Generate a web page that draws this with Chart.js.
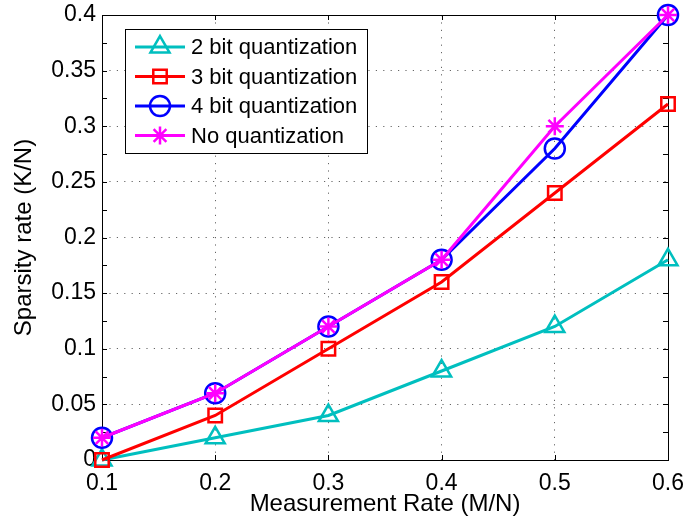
<!DOCTYPE html>
<html>
<head>
<meta charset="utf-8">
<script src="https://cdn.jsdelivr.net/npm/chart.js@4/dist/chart.umd.min.js"></script>
<style>
  html, body { margin: 0; padding: 0; background: #fff; overflow: hidden; }
  #wrap { width: 687px; height: 527px; }
</style>
</head>
<body>
<div id="wrap"><canvas id="sparsityChart"></canvas></div>
<script>
const rates = [0.1, 0.2, 0.3, 0.4, 0.5, 0.6];
const bit2 = [0, 0.02, 0.04, 0.08, 0.12, 0.18];
const bit3 = [0, 0.04, 0.10, 0.16, 0.24, 0.32];
const bit4 = [0.02, 0.06, 0.12, 0.18, 0.28, 0.40];
const noQuant = [0.02, 0.06, 0.12, 0.18, 0.30, 0.40];
const seriesNames = ["2 bit quantization", "3 bit quantization", "4 bit quantization", "No quantization"];

const FONT = "'Liberation Sans', Arial, Helvetica, sans-serif";

function pts(values) {
  return rates.map((r, i) => ({ x: r, y: values[i] }));
}

function series(label, values, color, style, radius, order) {
  return {
    label: label,
    data: pts(values),
    borderColor: color,
    backgroundColor: color,
    borderWidth: 3,
    pointStyle: style,
    pointRadius: radius,
    pointBorderColor: color,
    pointBackgroundColor: "rgba(0,0,0,0)",
    pointBorderWidth: 2.5,
    tension: 0,
    clip: false,
    order: order,
  };
}

// frame, inner tick marks and the boxed legend (matlab style)
const matlabAxes = {
  id: "matlabAxes",
  beforeDatasetsDraw(chart) {
    const { ctx, chartArea: a, scales } = chart;
    ctx.save();
    ctx.strokeStyle = "#000";
    ctx.lineWidth = 1;
    ctx.strokeRect(a.left + 0.5, a.top + 0.5, a.right - a.left, a.bottom - a.top);
    ctx.beginPath();
    for (const r of rates) {
      const px = Math.round(scales.x.getPixelForValue(r)) + 0.5;
      ctx.moveTo(px, a.bottom); ctx.lineTo(px, a.bottom - 5);
      ctx.moveTo(px, a.top); ctx.lineTo(px, a.top + 5);
    }
    for (let k = 0; k <= 16; k++) {
      const py = Math.round(scales.y.getPixelForValue(k * 0.025)) + 0.5;
      ctx.moveTo(a.left, py); ctx.lineTo(a.left + 5, py);
      ctx.moveTo(a.right, py); ctx.lineTo(a.right - 5, py);
    }
    ctx.stroke();
    ctx.restore();
  },
  afterDatasetsDraw(chart) {
    const { ctx } = chart;
    const bx = 125, by = 29, bw = 242, bh = 124;
    ctx.save();
    ctx.fillStyle = "#fff";
    ctx.fillRect(bx, by, bw, bh);
    ctx.strokeStyle = "#000";
    ctx.lineWidth = 1;
    ctx.strokeRect(bx + 0.5, by + 0.5, bw, bh);
    chart.data.datasets.forEach((ds, i) => {
      const y = 47 + i * 29.5;
      ctx.strokeStyle = ds.borderColor;
      ctx.lineWidth = 3;
      ctx.beginPath();
      ctx.moveTo(135, y); ctx.lineTo(185, y);
      ctx.stroke();
      ctx.lineWidth = ds.pointBorderWidth;
      ctx.fillStyle = "rgba(0,0,0,0)";
      Chart.helpers.drawPoint(ctx, { pointStyle: ds.pointStyle, radius: ds.pointRadius, rotation: 0, borderWidth: ds.pointBorderWidth }, 160, y);
      ctx.fillStyle = "#000";
      ctx.font = "22px " + FONT;
      ctx.textBaseline = "middle";
      ctx.textAlign = "left";
      ctx.fillText(ds.label, 191, y + 1);
    });
    ctx.restore();
  },
};

const grid = {
  color: "rgba(0,0,0,0.6)",
  lineWidth: 1,
  drawTicks: false,
};

new Chart(document.getElementById("sparsityChart"), {
  type: "line",
  data: {
    datasets: [
      series(seriesNames[0], bit2, "#00BFBF", "triangle", 11, 3),
      series(seriesNames[1], bit3, "#FF0000", "rect", 9.5, 2),
      series(seriesNames[2], bit4, "#0000FF", "circle", 10, 1),
      series(seriesNames[3], noQuant, "#FF00FF", "star", 9, 0),
    ],
  },
  options: {
    responsive: true,
    maintainAspectRatio: false,
    animation: false,
    layout: { padding: { top: 15, right: 19, left: 0, bottom: 0 } },
    plugins: {
      legend: { display: false },
      tooltip: { enabled: false },
    },
    scales: {
      x: {
        type: "linear",
        min: 0.1,
        max: 0.6,
        grid: grid,
        border: { display: false, dash: [1.2, 6.2] },
        ticks: {
          stepSize: 0.1,
          color: "#000",
          padding: 10,
          maxRotation: 0,
          font: { family: FONT, size: 23 },
          callback: (v) => String(+v.toFixed(1)),
        },
        title: {
          display: true,
          text: "Measurement Rate (M/N)",
          color: "#000",
          font: { family: FONT, size: 24 },
          padding: { top: 0, bottom: 8 },
        },
        afterFit(scale) {
          scale.height = 67;
          scale.paddingLeft = 0;
          scale.paddingRight = 0;
        },
      },
      y: {
        min: 0,
        max: 0.4,
        grid: grid,
        border: { display: false, dash: [1.2, 6.2] },
        ticks: {
          stepSize: 0.05,
          color: "#000",
          padding: 6,
          font: { family: FONT, size: 23 },
          callback: (v) => String(+v.toFixed(2)),
        },
        title: {
          display: true,
          text: "Sparsity rate (K/N)",
          color: "#000",
          font: { family: FONT, size: 24 },
          padding: { top: 10, bottom: 0 },
        },
        afterFit(scale) {
          scale.width = 102;
          scale.paddingTop = 0;
          scale.paddingBottom = 0;
        },
      },
    },
  },
  plugins: [matlabAxes],
});
</script>
</body>
</html>
